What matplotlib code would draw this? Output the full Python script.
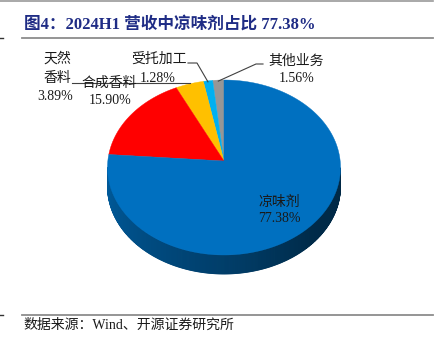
import numpy as np
import matplotlib.pyplot as plt
from matplotlib.patches import Polygon
from matplotlib.colors import to_rgb

# ----------------------------------------------------------------------
# Données
# ----------------------------------------------------------------------

categories = ['其他业务', '受托加工', '天然香料', '合成香料', '凉味剂']
shares = [1.56, 1.28, 3.89, 15.90, 77.38]
colors = ['#969696', '#00B0F0', '#FFC000', '#FF0000', '#0070C0']

title = '图4：2024H1 营收中凉味剂占比 77.38%'
source = '数据来源：Wind、开源证券研究所'

FONT = ['Liberation Serif', 'Noto Sans CJK SC']

# ----------------------------------------------------------------------
# Géométrie du camembert (pixels)
# ----------------------------------------------------------------------

cx, cy = 224, 167.5      # centre de l'ellipse
ax0, ay0 = 224, 161      # sommet des parts (perspective)
rx, ry = 116.5, 87.5
depth = 19


def pt(t_deg, dy=0.0):
    t = np.radians(t_deg)
    return cx + rx * np.cos(t), cy - ry * np.sin(t) + dy


fig = plt.figure(figsize=(4.42, 3.45), dpi=100)
ax = fig.add_axes([0, 0, 1, 1])
ax.set_xlim(0, 442)
ax.set_ylim(345, 0)
ax.axis('off')

# angles de chaque part (sens trigo depuis 90°)
fracs = np.array(shares) / sum(shares)
bounds = 90 + 360 * np.concatenate([[0], np.cumsum(fracs)])

# flancs (face avant), dégradé selon l'angle
for i, col in enumerate(colors):
    base = np.array(to_rgb(col))
    ts = np.linspace(bounds[i], bounds[i + 1], max(4, int((bounds[i + 1] - bounds[i]) * 2)))
    for a, b in zip(ts[:-1], ts[1:]):
        m = (a + b) / 2
        if np.sin(np.radians(m)) >= 0:
            continue
        ang = m % 360
        f = np.interp(ang, [180, 270, 320, 360], [0.82, 0.55, 0.38, 0.36])
        c = base * f
        quad = [pt(a), pt(b), pt(b, depth), pt(a, depth)]
        ax.add_patch(Polygon(quad, closed=True, facecolor=c, edgecolor=c, lw=0.6))

# faces supérieures
for i, col in enumerate(colors):
    ts = np.linspace(bounds[i], bounds[i + 1], 200)
    pts = [(ax0, ay0)] + [pt(t) for t in ts]
    ax.add_patch(Polygon(pts, closed=True, facecolor=col, edgecolor=col, lw=0.3))

# ----------------------------------------------------------------------
# Étiquettes et lignes de rappel
# ----------------------------------------------------------------------

mids = (bounds[:-1] + bounds[1:]) / 2
lab = [f'{v:.2f}%' for v in shares]
kw = dict(ha='center', va='center', fontsize=10, family=FONT, color='#1a1a1a')
lc = '#404040'

# 其他业务
ax.text(296, 61, categories[0], **kw)
ax.text(297, 78, lab[0], **kw)
ex, ey = pt(mids[0])
ax.plot([263, 256, ex], [64, 64, ey + 1], color=lc, lw=0.8)

# 受托加工
ax.text(159, 59, categories[1], **kw)
ax.text(158, 78, lab[1], **kw)
ex, ey = pt(mids[1])
ax.plot([188, 197, ex], [63, 63, ey + 1], color=lc, lw=0.8)

# 天然香料
ax.text(57, 59, categories[2][:2], **kw)
ax.text(57, 78, categories[2][2:], **kw)
ax.text(55, 97, lab[2], **kw)
ex, ey = pt(mids[2])
ax.plot([72, ex], [ey - 1, ey - 1], color=lc, lw=0.8)

# 合成香料
ax.text(109, 83, categories[3], **kw)
ax.text(110, 101, lab[3], **kw)

# 凉味剂
ax.text(279, 202, categories[4], **kw)
ax.text(279, 219, lab[4], **kw)

# ----------------------------------------------------------------------
# Titre, filets, source
# ----------------------------------------------------------------------

ax.text(24, 25, title, ha='left', va='center', fontsize=12, fontweight='bold',
        family=FONT, color='#1F2C85')
ax.plot([0, 433], [0.5, 0.5], color='#9a9a9a', lw=1.2)
ax.plot([22, 433], [38, 38], color='#8c8c8c', lw=1.3)
ax.plot([22, 433], [315, 315], color='#8c8c8c', lw=1.3)
ax.plot([0, 3], [38, 38], color='#333333', lw=1)
ax.plot([0, 3], [315, 315], color='#333333', lw=1)
ax.text(23, 325, source, ha='left', va='center', fontsize=10, family=FONT, color='#1a1a1a')

fig.savefig('out.png', dpi=100)
